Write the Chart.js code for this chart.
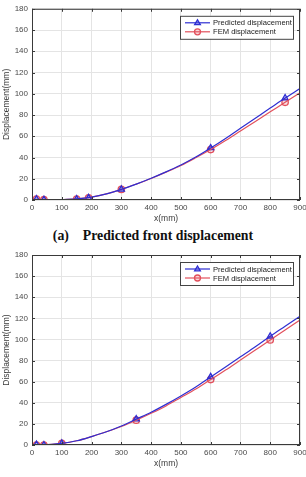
<!DOCTYPE html>
<html>
<head>
<meta charset="utf-8">
<script src="https://cdn.jsdelivr.net/npm/chart.js@4.4.1/dist/chart.umd.min.js"></script>
<style>
  html, body { margin: 0; padding: 0; background: #fff; }
  body { width: 306px; height: 477px; position: relative; overflow: hidden; }
  canvas { position: absolute; left: 0; }
  #c1 { top: 0; }
  #c2 { top: 245px; }
  .caption {
    position: absolute; left: 0; width: 306px; top: 228px;
    text-align: center; font-family: "Liberation Serif", "Times New Roman", serif;
    font-weight: bold; font-size: 13.8px; color: #111;
  }
</style>
</head>
<body>
<canvas id="c1" width="306" height="225"></canvas>
<div class="caption">(a)&nbsp;&nbsp;&nbsp;&nbsp;Predicted front displacement</div>
<canvas id="c2" width="306" height="225"></canvas>
<script>
// valeurs
const xTicks = [0, 100, 200, 300, 400, 500, 600, 700, 800, 900];
const yTicks = [0, 20, 40, 60, 80, 100, 120, 140, 160, 180];
const seriesNames = ['Predicted displacement', 'FEM displacement'];

// (a) front displacement – courbes
const topLineX = [15, 40, 100, 150, 200, 250, 300, 350, 400, 450, 500, 550, 600, 650, 700, 750, 800, 850, 900];
const topPredLine = [0.5, 0.2, 0.4, 1, 2.7, 5.7, 10, 15, 20.5, 26.5, 33, 40.5, 49, 58, 67.5, 77, 86.5, 96, 105];
const topFemLine = [0.5, 0.2, 0.4, 1, 2.7, 5.7, 10, 15, 20.3, 26.2, 32.5, 39.8, 47.5, 56, 65, 74, 83, 92, 101];
// (a) marqueurs
const topMarkX = [15, 40, 150, 190, 300, 600, 850];
const topPredMark = [0.8, 0.3, 0.8, 2, 10, 49, 96];
const topFemMark = [0.8, 0.3, 0.8, 2, 10, 47.5, 92];

// (b) courbes
const botLineX = [15, 40, 100, 150, 200, 250, 300, 350, 400, 450, 500, 550, 600, 650, 700, 750, 800, 850, 900];
const botPredLine = [0.3, 0.2, 1.5, 4, 8, 12.5, 18, 24.5, 31, 38.5, 46.5, 55, 64.5, 74, 83.5, 93, 103, 112.5, 122];
const botFemLine = [0.2, 0.2, 1.5, 4, 8, 12.5, 17.5, 23.5, 30, 37, 45, 53, 62, 71, 80.5, 90, 99.5, 109, 118.5];
// (b) marqueurs
const botMarkX = [15, 40, 100, 350, 600, 800];
const botPredMark = [0.5, 0, 1.5, 24.5, 64.5, 103];
const botFemMark = [0, 0, 1.5, 23.5, 62, 99.5];

const BLUE = '#2e2ed2';
const RED = '#e2505c';
const FONT = '"Liberation Sans", Arial, sans-serif';

const pts = (xs, ys) => xs.map((x, i) => ({ x: x, y: ys[i] }));

function drawMarker(ctx, style, x, y, r, color, fill) {
  ctx.save();
  ctx.strokeStyle = color;
  ctx.fillStyle = fill;
  ctx.lineWidth = 1.3;
  ctx.beginPath();
  if (style === 'triangle') {
    ctx.moveTo(x, y - r);
    ctx.lineTo(x + r * 0.95, y + r * 0.6);
    ctx.lineTo(x - r * 0.95, y + r * 0.6);
    ctx.closePath();
  } else {
    ctx.arc(x, y, r, 0, Math.PI * 2);
  }
  ctx.fill();
  ctx.stroke();
  ctx.restore();
}

// cadre MATLAB, ticks vers l'intérieur, légende
const matlabFrame = {
  id: 'matlabFrame',
  afterDraw(chart) {
    const ctx = chart.ctx;
    const a = chart.chartArea;
    const xs = chart.scales.x, ys = chart.scales.y;
    ctx.save();
    ctx.strokeStyle = '#3a3a3a';
    ctx.lineWidth = 1;
    ctx.strokeRect(a.left + 0.5, a.top + 0.5, a.right - a.left - 1, a.bottom - a.top - 1);
    ctx.beginPath();
    xTicks.forEach(v => {
      const px = Math.round(xs.getPixelForValue(v)) + 0.5;
      ctx.moveTo(px, a.bottom); ctx.lineTo(px, a.bottom - 3);
      ctx.moveTo(px, a.top); ctx.lineTo(px, a.top + 3);
    });
    yTicks.forEach(v => {
      const py = Math.round(ys.getPixelForValue(v)) + 0.5;
      ctx.moveTo(a.left, py); ctx.lineTo(a.left + 3, py);
      ctx.moveTo(a.right, py); ctx.lineTo(a.right - 3, py);
    });
    ctx.stroke();

    // légende
    const w = 113, h = 23;
    const lx = a.right - 7 - w, ly = a.top + 7;
    ctx.fillStyle = '#fff';
    ctx.fillRect(lx, ly, w, h);
    ctx.strokeStyle = '#444';
    ctx.strokeRect(lx + 0.5, ly + 0.5, w, h);
    const rows = [
      { c: BLUE, s: 'triangle', f: 'rgba(70,70,220,0.35)' },
      { c: RED, s: 'circle', f: 'rgba(230,90,100,0.25)' }
    ];
    ctx.font = '7.6px ' + FONT;
    ctx.textBaseline = 'middle';
    rows.forEach((r, i) => {
      const ry = ly + 7 + i * 9;
      ctx.strokeStyle = r.c;
      ctx.lineWidth = 1.2;
      ctx.beginPath();
      ctx.moveTo(lx + 5, ry); ctx.lineTo(lx + 30, ry);
      ctx.stroke();
      drawMarker(ctx, r.s, lx + 17.5, ry, 3, r.c, r.f);
      ctx.fillStyle = '#222';
      ctx.fillText(seriesNames[i], lx + 33, ry + 0.5);
    });
    ctx.restore();
  }
};

function makeChart(id, padTop, lineX, predLine, femLine, markX, predMark, femMark) {
  return new Chart(document.getElementById(id), {
    type: 'line',
    data: {
      datasets: [
        { label: seriesNames[0], data: pts(lineX, predLine), borderColor: BLUE, borderWidth: 1.2,
          pointRadius: 0, cubicInterpolationMode: 'monotone' },
        { label: seriesNames[1], data: pts(lineX, femLine), borderColor: RED, borderWidth: 1.2,
          pointRadius: 0, cubicInterpolationMode: 'monotone' },
        { label: 'pm', data: pts(markX, predMark), showLine: false, pointStyle: 'triangle',
          pointRadius: 3.5, borderColor: BLUE, backgroundColor: 'rgba(70,70,220,0.3)', pointBorderWidth: 1.3 },
        { label: 'fm', data: pts(markX, femMark), showLine: false, pointStyle: 'circle',
          pointRadius: 3.2, borderColor: RED, backgroundColor: 'rgba(230,90,100,0.2)', pointBorderWidth: 1.3 }
      ]
    },
    options: {
      responsive: false,
      animation: false,
      devicePixelRatio: 1,
      layout: { padding: { top: padTop, right: 6, left: 0, bottom: 0 } },
      plugins: { legend: { display: false }, tooltip: { enabled: false } },
      scales: {
        x: {
          type: 'linear', min: 0, max: 900,
          afterFit: s => { s.height = 25; s.paddingRight = 0; s.paddingLeft = 0; },
          grid: { color: '#e4e4e4', drawTicks: false },
          border: { display: false },
          ticks: { stepSize: 100, autoSkip: false, maxRotation: 0, padding: 3,
                   color: '#4a4a4a', font: { family: FONT, size: 8 } },
          title: { display: true, text: 'x(mm)', color: '#3a3a3a',
                   font: { family: FONT, size: 8.5 }, padding: { top: 0, bottom: 1 } }
        },
        y: {
          min: 0, max: 180,
          afterFit: s => { s.width = 32; },
          grid: { color: '#e4e4e4', drawTicks: false },
          border: { display: false },
          ticks: { stepSize: 20, padding: 4, color: '#4a4a4a', font: { family: FONT, size: 8 } },
          title: { display: true, text: 'Displacement(mm)', color: '#3a3a3a',
                   font: { family: FONT, size: 8.5 }, padding: { top: 2, bottom: 0 } }
        }
      }
    },
    plugins: [matlabFrame]
  });
}

makeChart('c1', 8, topLineX, topPredLine, topFemLine, topMarkX, topPredMark, topFemMark);
makeChart('c2', 10, botLineX, botPredLine, botFemLine, botMarkX, botPredMark, botFemMark);
</script>
</body>
</html>
